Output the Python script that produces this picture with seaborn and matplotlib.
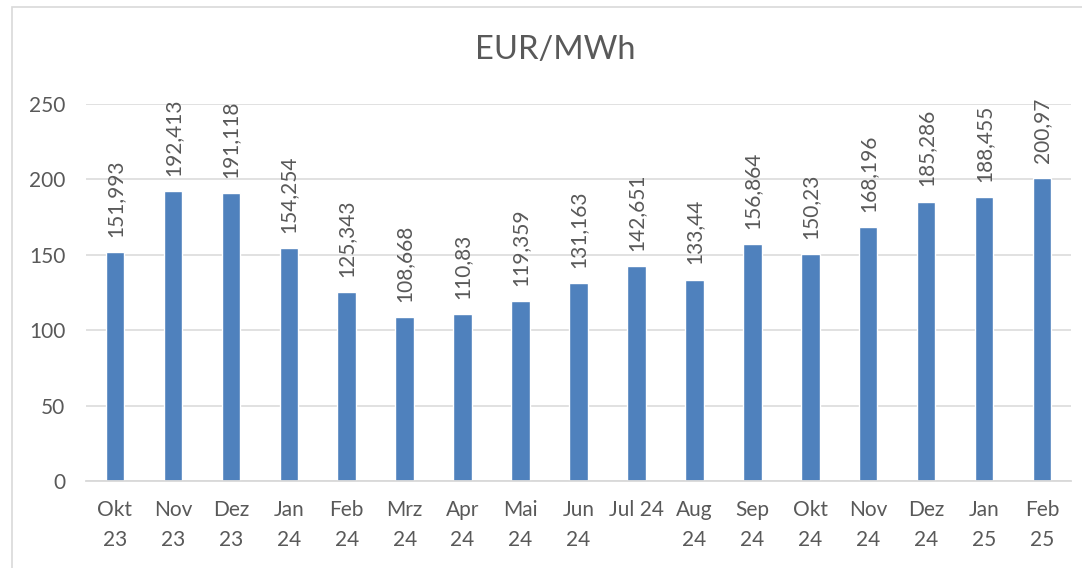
import matplotlib
matplotlib.use("Agg")
import matplotlib.pyplot as plt
import seaborn as sns
import pandas as pd
from matplotlib.patches import Rectangle

categories = ["Okt\n23", "Nov\n23", "Dez\n23", "Jan\n24", "Feb\n24", "Mrz\n24", "Apr\n24",
              "Mai\n24", "Jun\n24", "Jul 24", "Aug\n24", "Sep\n24", "Okt\n24", "Nov\n24",
              "Dez\n24", "Jan\n25", "Feb\n25"]
values = [151.993, 192.413, 191.118, 154.254, 125.343, 108.668, 110.83, 119.359, 131.163,
          142.651, 133.44, 156.864, 150.23, 168.196, 185.286, 188.455, 200.97]
value_labels = ["151,993", "192,413", "191,118", "154,254", "125,343", "108,668", "110,83",
                "119,359", "131,163", "142,651", "133,44", "156,864", "150,23", "168,196",
                "185,286", "188,455", "200,97"]
yticks = [0, 50, 100, 150, 200, 250]
title = "EUR/MWh"

sns.set_theme(style="white")
plt.rcParams['font.family'] = ['Lato', 'DejaVu Sans']

TXT = "#595959"
GRID = "#D9D9D9"
BAR = "#4F81BD"

df = pd.DataFrame({"cat": categories, "val": values})

fig = plt.figure(figsize=(10.82, 5.68), dpi=100)
ax = fig.add_axes([86/1082, 1-481/568, (1071-86)/1082, (481-104)/568])

sns.barplot(data=df, x="cat", y="val", color=BAR, width=0.32, saturation=1, ax=ax, zorder=3)

ax.set_ylim(0, 250)
ax.set_xlim(-0.5, len(categories) - 0.5)
ax.set_yticks(yticks)
ax.yaxis.grid(True, color=GRID, linewidth=1.1, zorder=0)
ax.set_axisbelow(True)
for s in ["top", "right", "left"]:
    ax.spines[s].set_visible(False)
ax.spines["bottom"].set_color(GRID)
ax.spines["bottom"].set_linewidth(1.3)
ax.spines["bottom"].set_zorder(4)

ax.set_xlabel("")
ax.set_ylabel("")
ax.tick_params(axis="y", length=0, pad=15, labelsize=15, labelcolor=TXT)
ax.tick_params(axis="x", which="major", length=0, pad=14, labelsize=15, labelcolor=TXT)
ax.set_xticks([i - 0.5 for i in range(len(categories) + 1)], minor=True)
ax.tick_params(axis="x", which="minor", length=5, width=1.3, color=GRID, direction="out")
for lbl in ax.get_xticklabels():
    lbl.set_linespacing(1.6)

ax.bar_label(ax.containers[0], labels=value_labels, rotation=90, padding=11,
             fontsize=15, color=TXT)

fig.text(555/1082, 1-50/568, title, ha="center", va="center", fontsize=23.5, color=TXT)

fig.patches.append(Rectangle((12/1082, -0.1), 1.2, 1 - 7/568 + 0.1, transform=fig.transFigure,
                             fill=False, edgecolor=GRID, linewidth=1.2, zorder=0))

fig.savefig("out.png", dpi=100)
